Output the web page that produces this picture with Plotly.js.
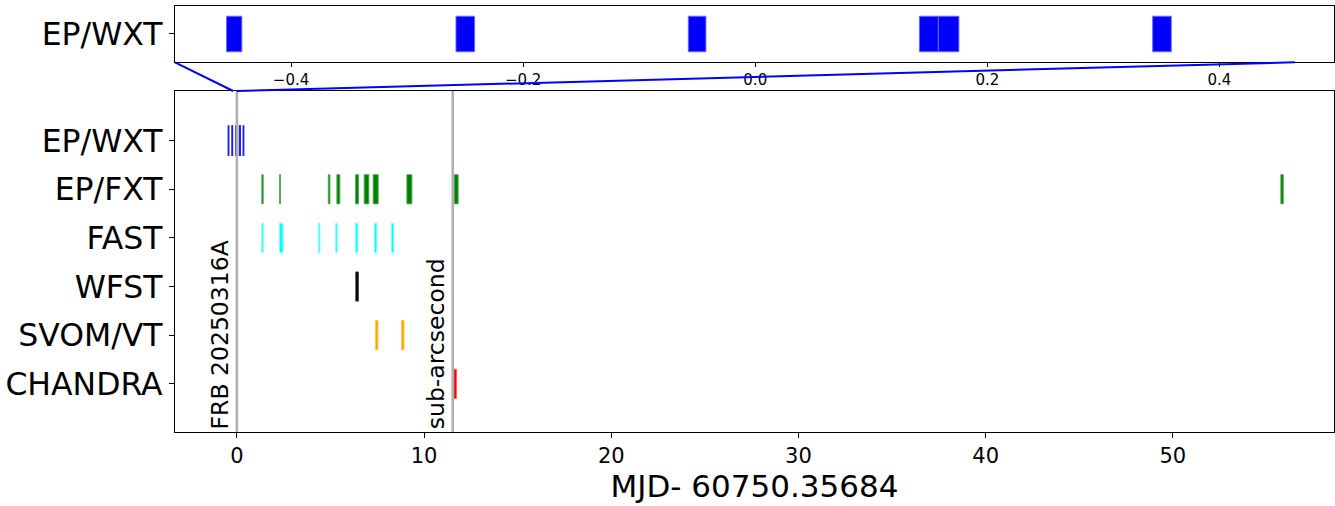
<!DOCTYPE html>
<html>
<head>
<meta charset="utf-8">
<script src="https://cdn.plot.ly/plotly-3.0.1.min.js"></script>
<style>html,body{margin:0;padding:0;background:#fff;}#chart{width:1335px;height:506px;}</style>
</head>
<body>
<div id="chart"></div>
<script>
// ---- data (days relative to MJD 60750.35684) ----
const categories = ["EP/WXT", "EP/FXT", "FAST", "WFST", "SVOM/VT", "CHANDRA"];
const colors = ["#0000ff", "#008000", "#00ffff", "#000000", "#ffa500", "#ff0000"];
const edgeColors = ["rgba(30,30,255,1)", "rgba(80,170,80,0.9)", "rgba(120,255,255,0.9)", "rgba(60,60,60,0.9)", "rgba(255,200,90,0.9)", "rgba(255,90,90,0.9)"];
const edgeWidths = [1.6, 1, 1, 1, 1, 1];

const wxtStart = [-0.4556, -0.2579, -0.0577, 0.1414, 0.1578, 0.3424];
const wxtDur   = [0.0132, 0.0161, 0.0152, 0.0164, 0.0177, 0.0161];

const fxtStart = [1.33, 2.28, 4.88, 5.34, 6.34, 6.80, 7.28, 9.08, 11.61, 55.77];
const fxtDur   = [0.075, 0.05, 0.09, 0.16, 0.16, 0.25, 0.27, 0.27, 0.21, 0.13];

const fastStart = [1.33, 2.28, 4.36, 5.28, 6.34, 7.35, 8.26];
const fastDur   = [0.075, 0.18, 0.07, 0.075, 0.12, 0.12, 0.12];

const wfstStart = [6.35];
const wfstDur   = [0.14];

const svomStart = [7.40, 8.79];
const svomDur   = [0.14, 0.14];

const chandraStart = [11.59];
const chandraDur   = [0.14];

const markerTimes  = [0, 11.53];
const markerLabels = ["FRB 20250316A", "sub-arcsecond"];

const mainXTicks = [0, 10, 20, 30, 40, 50];
const topXTicks  = [-0.4, -0.2, 0.0, 0.2, 0.4];
const xTitle = "MJD- 60750.35684";

// zoom connector: [top-panel x, main-panel x]
const zoomLinkLeft  = [-0.5, -0.2];
const zoomLinkRight = [0.465, 0.0];

// ---- layout geometry ----
const mainRange = [-3.307, 58.61];
const topRange  = [-0.5, 0.4987];
const mainDomain = [0, 0.7986];
const topDomain  = [0.8658, 0.9984];
const barH = 0.6;

const starts = [wxtStart, fxtStart, fastStart, wfstStart, svomStart, chandraStart];
const durs   = [wxtDur, fxtDur, fastDur, wfstDur, svomDur, chandraDur];

const traces = [];
categories.forEach((c, i) => {
  traces.push({
    type: "bar", orientation: "h",
    x: durs[i], base: starts[i], y: starts[i].map(() => i),
    width: barH,
    marker: {color: colors[i], line: {color: edgeColors[i], width: edgeWidths[i]}},
    xaxis: "x", yaxis: "y", hoverinfo: "skip", showlegend: false
  });
});
traces.push({
  type: "bar", orientation: "h",
  x: wxtDur, base: wxtStart, y: wxtStart.map(() => 0),
  width: barH,
  marker: {color: colors[0], line: {color: "rgba(110,110,255,0.9)", width: 1}},
  xaxis: "x2", yaxis: "y2", hoverinfo: "skip", showlegend: false
});

function px2paper(v, range) { return (v - range[0]) / (range[1] - range[0]); }

const shapes = markerTimes.map(t => ({
  type: "line", xref: "x", yref: "y domain", x0: t, x1: t, y0: 0, y1: 1,
  line: {color: "#b0b0b0", width: 2.6}, layer: "above"
}));
[zoomLinkLeft, zoomLinkRight].forEach(l => {
  shapes.push({
    type: "line", xref: "paper", yref: "paper",
    x0: px2paper(l[0], topRange), y0: topDomain[0],
    x1: px2paper(l[1], mainRange), y1: mainDomain[1],
    line: {color: "#0000ff", width: 2}
  });
});

const annotations = markerTimes.map((t, k) => ({
  x: t, xref: "x", y: 0, yref: "y domain",
  text: markerLabels[k], showarrow: false, textangle: -90,
  xanchor: "right", yanchor: "bottom", xshift: -1, yshift: 1,
  font: {family: "DejaVu Sans", size: 23.5, color: "#000"}
}));

const axisCommon = {
  showline: true, mirror: true, linecolor: "#000", linewidth: 1.1,
  ticks: "outside", ticklen: 5, tickcolor: "#000", tickwidth: 1,
  showgrid: false, zeroline: false, fixedrange: true
};

const layout = {
  width: 1335, height: 506,
  margin: {l: 175, r: 1, t: 5, b: 74},
  paper_bgcolor: "#fff", plot_bgcolor: "#fff",
  font: {family: "DejaVu Sans", color: "#000"},
  barmode: "overlay", bargap: 0,
  showlegend: false,
  xaxis: Object.assign({}, axisCommon, {
    domain: [0, 1], anchor: "y", range: mainRange,
    tickmode: "array", tickvals: mainXTicks, ticktext: mainXTicks.map(String),
    tickfont: {size: 21},
    title: {text: xTitle, font: {size: 31}, standoff: 6}
  }),
  yaxis: Object.assign({}, axisCommon, {
    domain: mainDomain, anchor: "x", range: [5.99, -1.02],
    tickmode: "array", tickvals: categories.map((c, i) => i), ticktext: categories,
    tickfont: {size: 31.5}
  }),
  xaxis2: Object.assign({}, axisCommon, {
    domain: [0, 1], anchor: "y2", range: topRange,
    tickmode: "array", tickvals: topXTicks, ticktext: topXTicks.map(v => (v < 0 ? "\u2212" : "") + Math.abs(v).toFixed(1)),
    tickfont: {size: 15}, ticklen: 4
  }),
  yaxis2: Object.assign({}, axisCommon, {
    domain: topDomain, anchor: "x2", range: [-0.477, 0.477],
    tickmode: "array", tickvals: [0], ticktext: [categories[0]],
    tickfont: {size: 31.5}
  }),
  shapes: shapes,
  annotations: annotations
};

Plotly.newPlot("chart", traces, layout, {displayModeBar: false, staticPlot: true});
</script>
</body>
</html>
